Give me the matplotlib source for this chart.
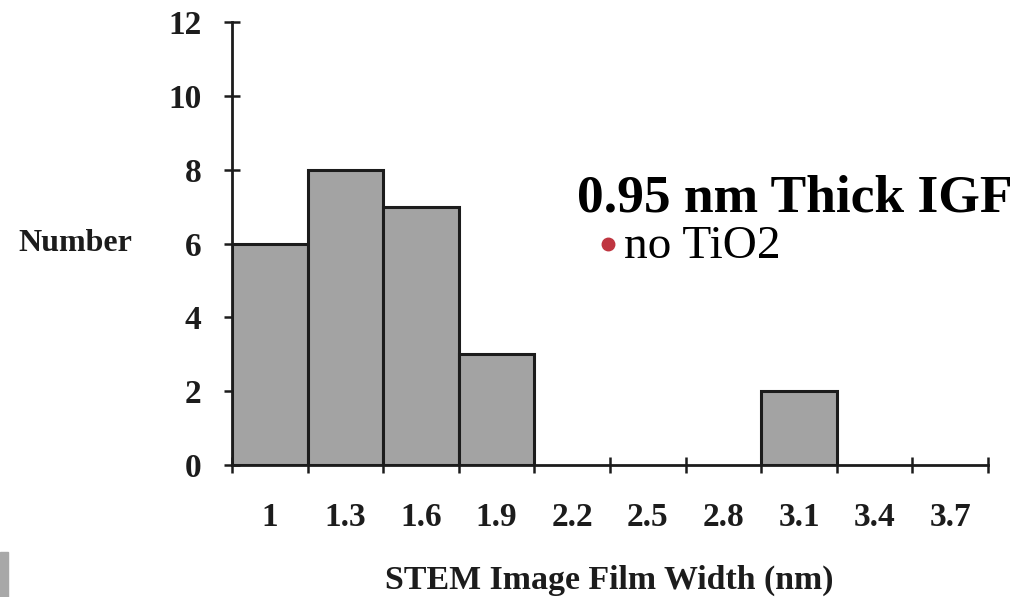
import matplotlib
matplotlib.use("Agg")
import matplotlib.pyplot as plt
from matplotlib.lines import Line2D
import numpy as np

# Data
bin_centers = [1.0, 1.3, 1.6, 1.9, 2.2, 2.5, 2.8, 3.1, 3.4, 3.7]
tick_labels = ["1", "1.3", "1.6", "1.9", "2.2", "2.5", "2.8", "3.1", "3.4", "3.7"]
counts = [6, 8, 7, 3, 0, 0, 0, 2, 0, 0]
y_ticks = [0, 2, 4, 6, 8, 10, 12]
bin_width = 0.3

title_text = "0.95 nm Thick IGF"
bullet_text = "no TiO2"
xlabel_text = "STEM Image Film Width (nm)"
ylabel_text = "Number"

W, H, DPI = 1027, 597, 100
fig = plt.figure(figsize=(W / DPI, H / DPI), dpi=DPI)
ax = fig.add_axes([232 / W, 1 - 465 / H, (988 - 232) / W, (465 - 22) / H])

serif = "Liberation Serif"
ink = "#1c1c1c"

x = np.array(bin_centers)
cnt = np.array(counts)
mask = cnt > 0
ax.bar(x[mask], cnt[mask], width=bin_width, color="#a3a3a3", edgecolor=ink,
       linewidth=2.2, zorder=2)

ax.set_xlim(x[0] - bin_width / 2, x[-1] + bin_width / 2)
ax.set_ylim(0, 12)

for s in ["top", "right"]:
    ax.spines[s].set_visible(False)
for s in ["left", "bottom"]:
    ax.spines[s].set_linewidth(2.0)
    ax.spines[s].set_color(ink)
    ax.spines[s].set_zorder(3)

edges = list(x - bin_width / 2) + [x[-1] + bin_width / 2]
ax.set_xticks(edges)
ax.set_xticklabels([])
ax.set_xticks(bin_centers, minor=True)
ax.set_xticklabels(tick_labels, minor=True, fontsize=24, fontweight="bold",
                   family=serif, color=ink)
ax.tick_params(axis="x", which="major", direction="inout", length=12, width=1.8,
               color=ink)
ax.tick_params(axis="x", which="minor", length=0, pad=27)

ax.set_yticks(y_ticks)
ax.set_yticklabels([str(v) for v in y_ticks], fontsize=24, fontweight="bold",
                   family=serif, color=ink)
ax.tick_params(axis="y", direction="inout", length=12, width=1.8, color=ink,
               pad=16)

fig.text(609 / W, 1 - 580 / H, xlabel_text, ha="center", va="center",
         fontsize=24.4, fontweight="bold", family=serif, color=ink)
fig.text(132 / W, 1 - 244 / H, ylabel_text, ha="right", va="center",
         fontsize=23, fontweight="bold", family=serif, color=ink)

fig.text(577 / W, 1 - 199 / H, title_text, ha="left", va="center",
         fontsize=38.5, fontweight="bold", family=serif, color="black")
fig.text(624 / W, 1 - 247 / H, bullet_text, ha="left", va="center",
         fontsize=34, family=serif, color="black")
fig.add_artist(Line2D([608 / W], [1 - 244 / H], transform=fig.transFigure,
                      marker="o", markersize=9, color="#bf3540", linestyle="none"))

# small gray fragment at bottom-left edge
fig.patches.append(plt.Rectangle((0, 0), 8 / W, 45 / H, transform=fig.transFigure,
                                 color="#a8a8a8", zorder=0))

fig.savefig("out.png", dpi=DPI)
